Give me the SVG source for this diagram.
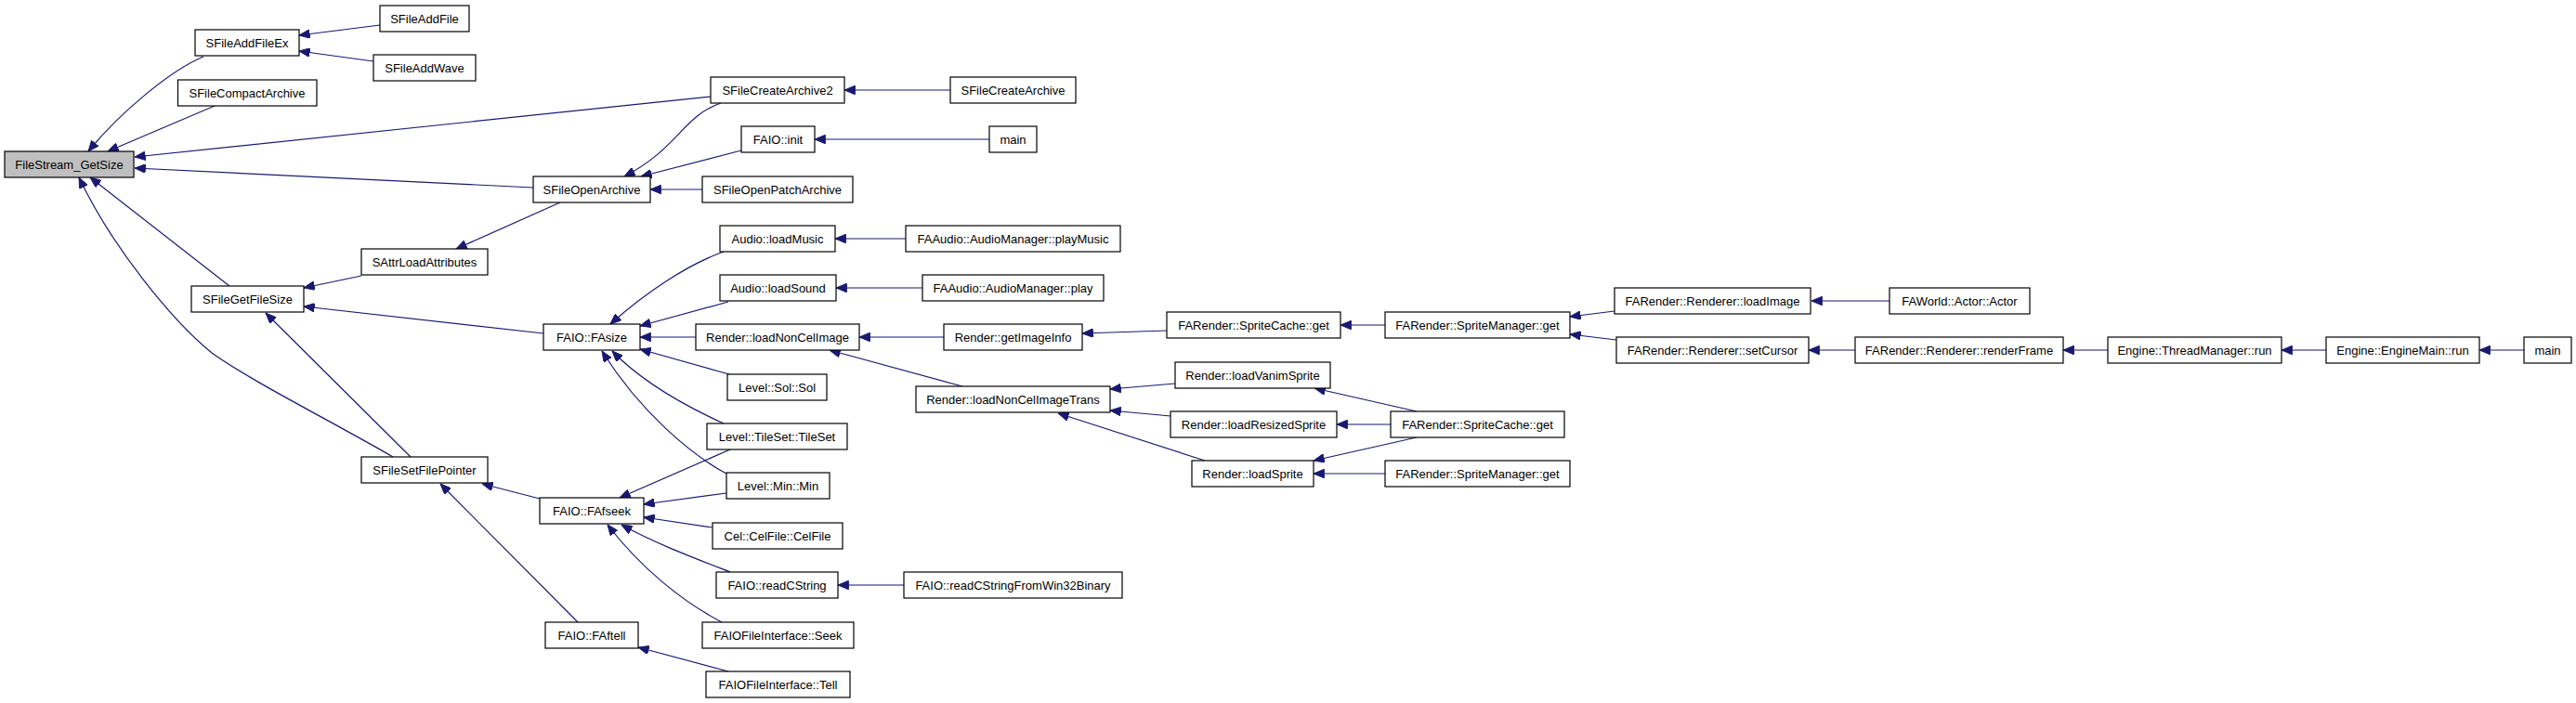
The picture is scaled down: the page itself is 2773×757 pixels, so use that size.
<svg xmlns="http://www.w3.org/2000/svg" width="2773" height="757" viewBox="0 0 2773 757">
<style>
.n rect{fill:#fff;stroke:#000;stroke-width:1.2}
.n text{font-family:"Liberation Sans",Arial,sans-serif;font-size:13px;fill:#000;text-anchor:middle}
#edges path{fill:none;stroke:#191970;stroke-width:1.2;marker-end:url(#ah)}
</style>
<defs>
<marker id="ah" viewBox="0 0 12 10" refX="12" refY="5" markerUnits="userSpaceOnUse" markerWidth="12" markerHeight="9.5" orient="auto">
<path d="M0,0 L12,5 L0,10 z" fill="#191970" stroke="#191970"/>
</marker>
</defs>
<rect width="2773" height="757" fill="#fff"/>
<g id="edges">
<path d="M219,61 C185,75 130,120 95,163"/>
<path d="M231,114 L116,163"/>
<path d="M765,104 L145,169"/>
<path d="M574,202 L145,181"/>
<path d="M247,308 L97,191"/>
<path d="M423,492 C350,450 270,410 228,380 C185,345 120,265 85,191"/>
<path d="M409,27 L322,38"/>
<path d="M402,66 L322,55"/>
<path d="M1023,97 L909,97"/>
<path d="M776,111 C735,125 730,160 672,190"/>
<path d="M798,162 L690,190"/>
<path d="M756,204 L700,204"/>
<path d="M1065,150 L877,150"/>
<path d="M603,218 L491,268"/>
<path d="M389,297 L327,310"/>
<path d="M585,359 L327,330"/>
<path d="M442,492 L286,337"/>
<path d="M779,271 C740,285 695,315 657,349"/>
<path d="M784,325 L689,351"/>
<path d="M749,363 L689,363"/>
<path d="M785,403 L689,376"/>
<path d="M779,456 C735,436 690,410 659,378"/>
<path d="M782,510 C745,490 690,445 648,378"/>
<path d="M975,257 L899,257"/>
<path d="M993,310 L900,310"/>
<path d="M1016,363 L925,363"/>
<path d="M1036,416 L893,377"/>
<path d="M1256,356 L1165,359"/>
<path d="M1491,350 L1443,350"/>
<path d="M1738,335 L1690,341"/>
<path d="M1740,366 L1690,360"/>
<path d="M2034,324 L1950,324"/>
<path d="M1997,377 L1947,377"/>
<path d="M2269,377 L2221,377"/>
<path d="M2504,377 L2456,377"/>
<path d="M2717,377 L2669,377"/>
<path d="M1265,413 L1195,419"/>
<path d="M1260,448 L1195,442"/>
<path d="M1297,496 L1139,445"/>
<path d="M1525,443 L1415,418"/>
<path d="M1497,457 L1439,457"/>
<path d="M1525,471 L1414,496"/>
<path d="M1491,510 L1414,510"/>
<path d="M581,537 L519,521"/>
<path d="M622,670 L474,521"/>
<path d="M786,484 L667,536"/>
<path d="M782,531 L693,543"/>
<path d="M767,568 L693,557"/>
<path d="M786,616 C745,600 705,585 669,565"/>
<path d="M777,670 C735,648 690,612 654,565"/>
<path d="M784,723 L687,697"/>
<path d="M973,630 L902,630"/>
</g>
<g id="n_FileStream_GetSize" class="n"><rect x="5" y="163" width="139" height="28" style="fill:#bfbfbf"/><text x="74.5" y="182">FileStream_GetSize</text></g>
<g id="n_SFileAddFileEx" class="n"><rect x="210" y="32" width="112" height="28"/><text x="266" y="51">SFileAddFileEx</text></g>
<g id="n_SFileAddFile" class="n"><rect x="409" y="6" width="96" height="28"/><text x="457" y="25">SFileAddFile</text></g>
<g id="n_SFileAddWave" class="n"><rect x="402" y="59" width="110" height="28"/><text x="457" y="78">SFileAddWave</text></g>
<g id="n_SFileCompactArchive" class="n"><rect x="191.5" y="86" width="149.5" height="28"/><text x="266" y="105">SFileCompactArchive</text></g>
<g id="n_SFileCreateArchive2" class="n"><rect x="765" y="83" width="144" height="28"/><text x="837" y="102">SFileCreateArchive2</text></g>
<g id="n_SFileCreateArchive" class="n"><rect x="1023" y="83" width="135" height="28"/><text x="1090.5" y="102">SFileCreateArchive</text></g>
<g id="n_FAIO_init" class="n"><rect x="798" y="136" width="79" height="28"/><text x="837.5" y="155">FAIO::init</text></g>
<g id="n_main1" class="n"><rect x="1065" y="136" width="51" height="28"/><text x="1090.5" y="155">main</text></g>
<g id="n_SFileOpenArchive" class="n"><rect x="574" y="190" width="126" height="28"/><text x="637" y="209">SFileOpenArchive</text></g>
<g id="n_SFileOpenPatchArchive" class="n"><rect x="756" y="190" width="162" height="28"/><text x="837" y="209">SFileOpenPatchArchive</text></g>
<g id="n_Audio_loadMusic" class="n"><rect x="775" y="243" width="124" height="28"/><text x="837" y="262">Audio::loadMusic</text></g>
<g id="n_playMusic" class="n"><rect x="975" y="243" width="231" height="28"/><text x="1090.5" y="262">FAAudio::AudioManager::playMusic</text></g>
<g id="n_SAttrLoadAttributes" class="n"><rect x="389" y="268" width="136" height="28"/><text x="457" y="287">SAttrLoadAttributes</text></g>
<g id="n_Audio_loadSound" class="n"><rect x="775" y="296" width="125" height="28"/><text x="837.5" y="315">Audio::loadSound</text></g>
<g id="n_play" class="n"><rect x="993" y="296" width="195" height="28"/><text x="1090.5" y="315">FAAudio::AudioManager::play</text></g>
<g id="n_SFileGetFileSize" class="n"><rect x="206" y="308" width="121" height="28"/><text x="266.5" y="327">SFileGetFileSize</text></g>
<g id="n_loadImage" class="n"><rect x="1738" y="310" width="211" height="28"/><text x="1843.5" y="329">FARender::Renderer::loadImage</text></g>
<g id="n_Actor" class="n"><rect x="2034" y="310" width="151" height="28"/><text x="2109.5" y="329">FAWorld::Actor::Actor</text></g>
<g id="n_SpriteCache_get1" class="n"><rect x="1256" y="336" width="187" height="28"/><text x="1349.5" y="355">FARender::SpriteCache::get</text></g>
<g id="n_SpriteManager_get1" class="n"><rect x="1491" y="336" width="199" height="28"/><text x="1590.5" y="355">FARender::SpriteManager::get</text></g>
<g id="n_FAsize" class="n"><rect x="585" y="349" width="104" height="28"/><text x="637" y="368">FAIO::FAsize</text></g>
<g id="n_loadNonCelImage" class="n"><rect x="749" y="349" width="176" height="28"/><text x="837" y="368">Render::loadNonCelImage</text></g>
<g id="n_getImageInfo" class="n"><rect x="1016" y="349" width="149" height="28"/><text x="1090.5" y="368">Render::getImageInfo</text></g>
<g id="n_setCursor" class="n"><rect x="1740" y="363" width="207" height="28"/><text x="1843.5" y="382">FARender::Renderer::setCursor</text></g>
<g id="n_renderFrame" class="n"><rect x="1997" y="363" width="224" height="28"/><text x="2109" y="382">FARender::Renderer::renderFrame</text></g>
<g id="n_ThreadManager_run" class="n"><rect x="2269" y="363" width="187" height="28"/><text x="2362.5" y="382">Engine::ThreadManager::run</text></g>
<g id="n_EngineMain_run" class="n"><rect x="2504" y="363" width="165" height="28"/><text x="2586.5" y="382">Engine::EngineMain::run</text></g>
<g id="n_main2" class="n"><rect x="2717" y="363" width="51" height="28"/><text x="2742.5" y="382">main</text></g>
<g id="n_loadVanimSprite" class="n"><rect x="1265" y="390" width="167" height="28"/><text x="1348.5" y="409">Render::loadVanimSprite</text></g>
<g id="n_Sol" class="n"><rect x="783" y="403" width="107" height="28"/><text x="836.5" y="422">Level::Sol::Sol</text></g>
<g id="n_loadNonCelImageTrans" class="n"><rect x="986" y="416" width="209" height="28"/><text x="1090.5" y="435">Render::loadNonCelImageTrans</text></g>
<g id="n_loadResizedSprite" class="n"><rect x="1260" y="443" width="179" height="28"/><text x="1349.5" y="462">Render::loadResizedSprite</text></g>
<g id="n_SpriteCache_get2" class="n"><rect x="1497" y="443" width="187" height="28"/><text x="1590.5" y="462">FARender::SpriteCache::get</text></g>
<g id="n_TileSet" class="n"><rect x="761" y="456" width="151" height="28"/><text x="836.5" y="475">Level::TileSet::TileSet</text></g>
<g id="n_SFileSetFilePointer" class="n"><rect x="389" y="492" width="136" height="28"/><text x="457" y="511">SFileSetFilePointer</text></g>
<g id="n_loadSprite" class="n"><rect x="1283" y="496" width="131" height="28"/><text x="1348.5" y="515">Render::loadSprite</text></g>
<g id="n_SpriteManager_get2" class="n"><rect x="1491" y="496" width="199" height="28"/><text x="1590.5" y="515">FARender::SpriteManager::get</text></g>
<g id="n_Min" class="n"><rect x="782" y="509" width="111" height="28"/><text x="837.5" y="528">Level::Min::Min</text></g>
<g id="n_FAfseek" class="n"><rect x="581" y="536" width="112" height="28"/><text x="637" y="555">FAIO::FAfseek</text></g>
<g id="n_CelFile" class="n"><rect x="767" y="563" width="140" height="28"/><text x="837" y="582">Cel::CelFile::CelFile</text></g>
<g id="n_readCString" class="n"><rect x="771" y="616" width="131" height="28"/><text x="836.5" y="635">FAIO::readCString</text></g>
<g id="n_readCStringWin32" class="n"><rect x="973" y="616" width="235" height="28"/><text x="1090.5" y="635">FAIO::readCStringFromWin32Binary</text></g>
<g id="n_FAftell" class="n"><rect x="587" y="670" width="100" height="28"/><text x="637" y="689">FAIO::FAftell</text></g>
<g id="n_Seek" class="n"><rect x="756" y="670" width="163" height="28"/><text x="837.5" y="689">FAIOFileInterface::Seek</text></g>
<g id="n_Tell" class="n"><rect x="760" y="723" width="155" height="28"/><text x="837.5" y="742">FAIOFileInterface::Tell</text></g>
</svg>
